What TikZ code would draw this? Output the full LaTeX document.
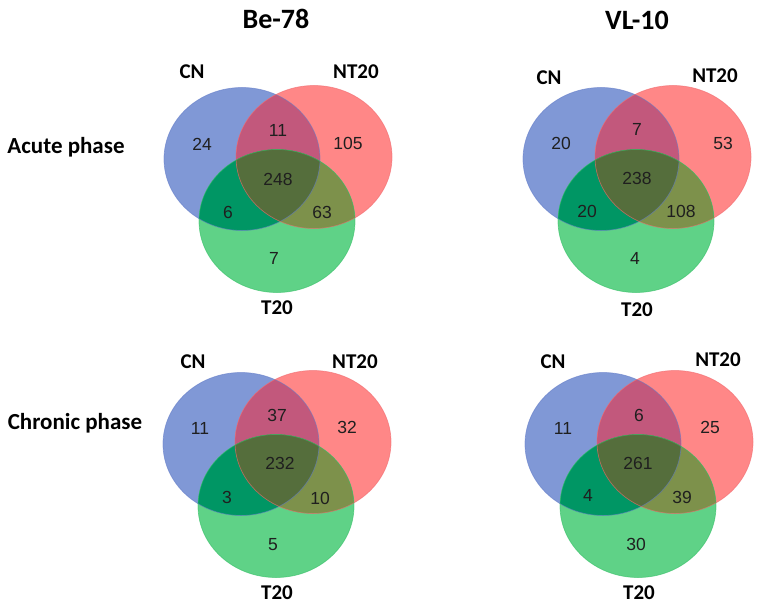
\documentclass[tikz,border=0pt]{standalone}
\usepackage{fontspec}
\setmainfont{Liberation Sans}
\newfontfamily\calfont{Carlito}
\usepackage{tikz}
\definecolor{cnonly}{RGB}{128,152,214}
\definecolor{ntonly}{RGB}{255,135,135}
\definecolor{tonly}{RGB}{95,210,135}
\definecolor{cnnt}{RGB}{194,88,124}
\definecolor{cnt}{RGB}{0,150,100}
\definecolor{ntt}{RGB}{125,145,75}
\definecolor{allsets}{RGB}{85,110,60}
\definecolor{cnedge}{RGB}{100,125,200}
\definecolor{ntedge}{RGB}{240,105,110}
\definecolor{tedge}{RGB}{50,190,100}
\tikzset{
  oval/.style={x radius=78pt,y radius=71.5pt},
  num/.style={font=\fontsize{17.5}{20}\selectfont,text=black!88,inner sep=0pt},
  setlab/.style={font=\calfont\bfseries\fontsize{21}{24}\selectfont,inner sep=0pt},
  coltitle/.style={font=\calfont\bfseries\fontsize{28}{32}\selectfont,inner sep=0pt},
  rowlab/.style={font=\calfont\bfseries\fontsize{23}{26}\selectfont,inner sep=0pt},
  pics/vennsets/.style={code={
    \fill[cnonly] (-35,-62) ellipse [oval];
    \fill[ntonly] (37,-64) ellipse [oval];
    \fill[tonly] (0,0) ellipse [oval];
    \begin{scope}
      \clip (-35,-62) ellipse [oval];
      \fill[cnnt] (37,-64) ellipse [oval];
      \fill[cnt] (0,0) ellipse [oval];
    \end{scope}
    \begin{scope}
      \clip (37,-64) ellipse [oval];
      \fill[ntt] (0,0) ellipse [oval];
      \clip (-35,-62) ellipse [oval];
      \fill[allsets] (0,0) ellipse [oval];
    \end{scope}
    \draw[cnedge,line width=0.7pt,opacity=0.6] (-35,-62) ellipse [oval];
    \draw[ntedge,line width=0.7pt,opacity=0.6] (37,-64) ellipse [oval];
    \draw[tedge,line width=0.7pt,opacity=0.6] (0,0) ellipse [oval];
  }}
}

\begin{document}
\begin{tikzpicture}[x=1pt,y=-1pt]
\useasboundingbox (0,0) rectangle (759,607);
\node[coltitle] (be) at (276,19) {Be-78};
\node[coltitle] (vl) at (637,20) {VL-10};
\node[rowlab] (acute) at (66,147) {Acute phase};
\node[rowlab] (chronic) at (75,423) {Chronic phase};
% Be-78, acute
\pic at (277,221) {vennsets};
\begin{scope}[shift={(277,221)}]
\node[setlab] (beA-cn) at (-85,-149) {CN};
\node[setlab] (beA-nt) at (79,-149) {NT20};
\node[setlab] (beA-t) at (0,87) {T20};
\node[num] (beA-1) at (-75,-77) {24};
\node[num] (beA-2) at (1,-91) {11};
\node[num] (beA-3) at (71,-78) {105};
\node[num] (beA-4) at (1,-42) {248};
\node[num] (beA-5) at (-49,-9) {6};
\node[num] (beA-6) at (45,-9) {63};
\node[num] (beA-7) at (-3,37) {7};
\end{scope}
% VL-10, acute
\pic at (636,221) {vennsets};
\begin{scope}[shift={(636,221)}]
\node[setlab] (vlA-cn) at (-87,-143) {CN};
\node[setlab] (vlA-nt) at (79,-145) {NT20};
\node[setlab] (vlA-t) at (1,89) {T20};
\node[num] (vlA-1) at (-75,-78) {20};
\node[num] (vlA-2) at (1,-92) {7};
\node[num] (vlA-3) at (87,-78) {53};
\node[num] (vlA-4) at (1,-43) {238};
\node[num] (vlA-5) at (-49,-10) {20};
\node[num] (vlA-6) at (45,-10) {108};
\node[num] (vlA-7) at (-1,37) {4};
\end{scope}
% Be-78, chronic
\pic at (276,506) {vennsets};
\begin{scope}[shift={(276,506)}]
\node[setlab] (beC-cn) at (-83,-144) {CN};
\node[setlab] (beC-nt) at (79,-144) {NT20};
\node[setlab] (beC-t) at (1,87) {T20};
\node[num] (beC-1) at (-76,-78) {11};
\node[num] (beC-2) at (1,-91) {37};
\node[num] (beC-3) at (71,-79) {32};
\node[num] (beC-4) at (4,-43) {232};
\node[num] (beC-5) at (-49,-9) {3};
\node[num] (beC-6) at (44,-8) {10};
\node[num] (beC-7) at (-3,39) {5};
\end{scope}
% VL-10, chronic
\pic at (638,506) {vennsets};
\begin{scope}[shift={(638,506)}]
\node[setlab] (vlC-cn) at (-85,-144) {CN};
\node[setlab] (vlC-nt) at (80,-146) {NT20};
\node[setlab] (vlC-t) at (1,87) {T20};
\node[num] (vlC-1) at (-75,-78) {11};
\node[num] (vlC-2) at (1,-91) {6};
\node[num] (vlC-3) at (72,-79) {25};
\node[num] (vlC-4) at (0,-43) {261};
\node[num] (vlC-5) at (-50,-11) {4};
\node[num] (vlC-6) at (44,-9) {39};
\node[num] (vlC-7) at (-2,38) {30};
\end{scope}
\end{tikzpicture}
\end{document}
